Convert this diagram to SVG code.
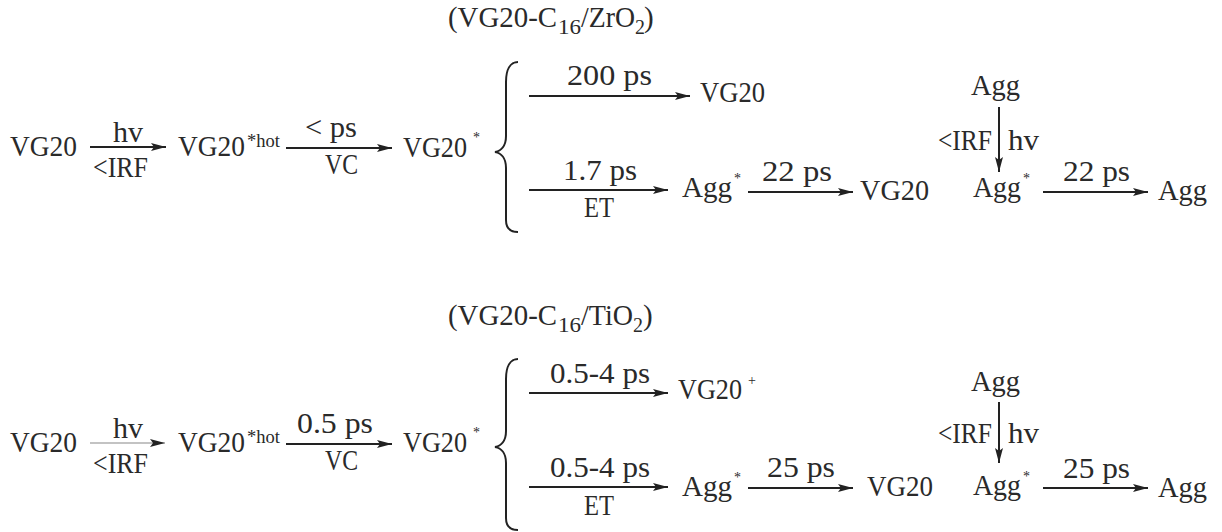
<svg xmlns="http://www.w3.org/2000/svg" width="1222" height="532" viewBox="0 0 1222 532">
<style>
text{font-family:'Liberation Serif','Tinos','Times New Roman','Nimbus Roman','Noto Serif','DejaVu Serif','FreeSerif','Times',serif;fill:#2a2a2a}
.m{font-size:29px}
.s{font-size:18px}
.st{font-size:14px}
.sub{font-size:20px}
.ar{stroke:#222;stroke-width:2;fill:none}
.thin{stroke:#888;stroke-width:1.2;fill:none}
.br{stroke:#222;stroke-width:2;fill:none}
</style>
<defs>
<marker id="ah" markerUnits="userSpaceOnUse" markerWidth="16" markerHeight="10" refX="15" refY="5" orient="auto">
<path d="M0,1 L15,5 L0,9 L3,5 z" fill="#222"/>
</marker>
</defs>
<g id="connectors">
<line class="ar" x1="90" y1="147" x2="166" y2="147" marker-end="url(#ah)"/>
<line class="ar" x1="286" y1="148" x2="392" y2="148" marker-end="url(#ah)"/>
<line class="ar" x1="529" y1="96" x2="690" y2="96" marker-end="url(#ah)"/>
<line class="ar" x1="529" y1="190" x2="668" y2="190" marker-end="url(#ah)"/>
<line class="ar" x1="748" y1="192" x2="853" y2="192" marker-end="url(#ah)"/>
<line class="ar" x1="999" y1="107" x2="999" y2="172" marker-end="url(#ah)"/>
<line class="ar" x1="1043" y1="192" x2="1148" y2="192" marker-end="url(#ah)"/>
<path class="br" d="M518 62 C510 62 506 70 506 82 L506 136 C506 146 501 151 495 152 C501 153 506 158 506 168 L506 220 C506 228 510 232 518 232"/>
<line class="thin" x1="90" y1="443" x2="165" y2="443" marker-end="url(#ah)"/>
<line class="ar" x1="286" y1="444" x2="392" y2="444" marker-end="url(#ah)"/>
<line class="ar" x1="529" y1="393" x2="668" y2="393" marker-end="url(#ah)"/>
<line class="ar" x1="529" y1="487" x2="668" y2="487" marker-end="url(#ah)"/>
<line class="ar" x1="748" y1="488" x2="853" y2="488" marker-end="url(#ah)"/>
<line class="ar" x1="999" y1="402" x2="999" y2="463" marker-end="url(#ah)"/>
<line class="ar" x1="1043" y1="488" x2="1148" y2="488" marker-end="url(#ah)"/>
<path class="br" d="M518 359 C510 359 506 367 506 379 L506 431 C506 441 501 446 495 447 C501 448 506 453 506 463 L506 518 C506 526 510 530 518 530"/>
</g>
<g id="top-title">
<text class="m" x="448" y="27" textLength="109" lengthAdjust="spacingAndGlyphs">(VG20-C</text>
<text class="sub" x="558" y="34" textLength="23" lengthAdjust="spacingAndGlyphs">16</text>
<text class="m" x="581" y="27" textLength="54" lengthAdjust="spacingAndGlyphs">/ZrO</text>
<text class="sub" x="635" y="34">2</text>
<text class="m" x="644" y="27">)</text>
</g>
<g id="top-vg20"><text class="m" x="10" y="156" textLength="67" lengthAdjust="spacingAndGlyphs">VG20</text></g>
<g id="top-l1"><text class="m" x="113" y="142" textLength="30" lengthAdjust="spacingAndGlyphs">hv</text><text class="m" x="93" y="177" textLength="55" lengthAdjust="spacingAndGlyphs">&lt;IRF</text></g>
<g id="top-vg20hot"><text class="m" x="178" y="156" textLength="67" lengthAdjust="spacingAndGlyphs">VG20</text><text class="s" x="247" y="147" textLength="33" lengthAdjust="spacingAndGlyphs">*hot</text></g>
<g id="top-l2"><text class="m" x="305" y="137" textLength="52" lengthAdjust="spacingAndGlyphs">&lt; ps</text><text class="m" x="325" y="174" textLength="33" lengthAdjust="spacingAndGlyphs">VC</text></g>
<g id="top-vg20s"><text class="m" x="403" y="157" textLength="64" lengthAdjust="spacingAndGlyphs">VG20</text><text class="st" x="473" y="142">*</text></g>
<g id="top-b1"><text class="m" x="567" y="85" textLength="85" lengthAdjust="spacingAndGlyphs">200 ps</text></g>
<g id="top-vg20b"><text class="m" x="700" y="102" textLength="65" lengthAdjust="spacingAndGlyphs">VG20</text></g>
<g id="top-b2"><text class="m" x="563" y="180" textLength="74" lengthAdjust="spacingAndGlyphs">1.7 ps</text><text class="m" x="584" y="217" textLength="30" lengthAdjust="spacingAndGlyphs">ET</text></g>
<g id="top-aggs"><text class="m" x="682" y="197" textLength="50" lengthAdjust="spacingAndGlyphs">Agg</text><text class="st" x="734" y="183">*</text></g>
<g id="top-l3"><text class="m" x="762" y="181" textLength="70" lengthAdjust="spacingAndGlyphs">22 ps</text></g>
<g id="top-vg20c"><text class="m" x="860" y="200" textLength="69" lengthAdjust="spacingAndGlyphs">VG20</text></g>
<g id="top-agg1"><text class="m" x="971" y="95" textLength="49" lengthAdjust="spacingAndGlyphs">Agg</text></g>
<g id="top-l4"><text class="m" x="938" y="150" textLength="54" lengthAdjust="spacingAndGlyphs">&lt;IRF</text><text class="m" x="1008" y="150" textLength="31" lengthAdjust="spacingAndGlyphs">hv</text></g>
<g id="top-agg2"><text class="m" x="973" y="197" textLength="48" lengthAdjust="spacingAndGlyphs">Agg</text><text class="st" x="1023" y="183">*</text></g>
<g id="top-l5"><text class="m" x="1063" y="181" textLength="67" lengthAdjust="spacingAndGlyphs">22 ps</text></g>
<g id="top-agg3"><text class="m" x="1158" y="200" textLength="49" lengthAdjust="spacingAndGlyphs">Agg</text></g>

<g id="bot-title">
<text class="m" x="448" y="325" textLength="109" lengthAdjust="spacingAndGlyphs">(VG20-C</text>
<text class="sub" x="558" y="332" textLength="23" lengthAdjust="spacingAndGlyphs">16</text>
<text class="m" x="581" y="325" textLength="52" lengthAdjust="spacingAndGlyphs">/TiO</text>
<text class="sub" x="633" y="332">2</text>
<text class="m" x="643" y="325">)</text>
</g>
<g id="bot-vg20"><text class="m" x="10" y="452" textLength="67" lengthAdjust="spacingAndGlyphs">VG20</text></g>
<g id="bot-l1"><text class="m" x="113" y="438" textLength="30" lengthAdjust="spacingAndGlyphs">hv</text><text class="m" x="93" y="473" textLength="55" lengthAdjust="spacingAndGlyphs">&lt;IRF</text></g>
<g id="bot-vg20hot"><text class="m" x="178" y="452" textLength="67" lengthAdjust="spacingAndGlyphs">VG20</text><text class="s" x="247" y="443" textLength="33" lengthAdjust="spacingAndGlyphs">*hot</text></g>
<g id="bot-l2"><text class="m" x="297" y="433" textLength="76" lengthAdjust="spacingAndGlyphs">0.5 ps</text><text class="m" x="325" y="470" textLength="33" lengthAdjust="spacingAndGlyphs">VC</text></g>
<g id="bot-vg20s"><text class="m" x="403" y="452" textLength="64" lengthAdjust="spacingAndGlyphs">VG20</text><text class="st" x="473" y="437">*</text></g>
<g id="bot-b1"><text class="m" x="550" y="383" textLength="100" lengthAdjust="spacingAndGlyphs">0.5-4 ps</text></g>
<g id="bot-vg20p"><text class="m" x="678" y="399" textLength="64" lengthAdjust="spacingAndGlyphs">VG20</text><text class="st" x="748" y="385">+</text></g>
<g id="bot-b2"><text class="m" x="550" y="477" textLength="100" lengthAdjust="spacingAndGlyphs">0.5-4 ps</text><text class="m" x="584" y="515" textLength="30" lengthAdjust="spacingAndGlyphs">ET</text></g>
<g id="bot-aggs"><text class="m" x="682" y="496" textLength="50" lengthAdjust="spacingAndGlyphs">Agg</text><text class="st" x="734" y="482">*</text></g>
<g id="bot-l3"><text class="m" x="767" y="477" textLength="68" lengthAdjust="spacingAndGlyphs">25 ps</text></g>
<g id="bot-vg20c"><text class="m" x="867" y="496" textLength="66" lengthAdjust="spacingAndGlyphs">VG20</text></g>
<g id="bot-agg1"><text class="m" x="971" y="391" textLength="49" lengthAdjust="spacingAndGlyphs">Agg</text></g>
<g id="bot-l4"><text class="m" x="938" y="443" textLength="54" lengthAdjust="spacingAndGlyphs">&lt;IRF</text><text class="m" x="1008" y="443" textLength="31" lengthAdjust="spacingAndGlyphs">hv</text></g>
<g id="bot-agg2"><text class="m" x="973" y="495" textLength="48" lengthAdjust="spacingAndGlyphs">Agg</text><text class="st" x="1023" y="481">*</text></g>
<g id="bot-l5"><text class="m" x="1063" y="478" textLength="67" lengthAdjust="spacingAndGlyphs">25 ps</text></g>
<g id="bot-agg3"><text class="m" x="1158" y="497" textLength="49" lengthAdjust="spacingAndGlyphs">Agg</text></g>
</svg>
